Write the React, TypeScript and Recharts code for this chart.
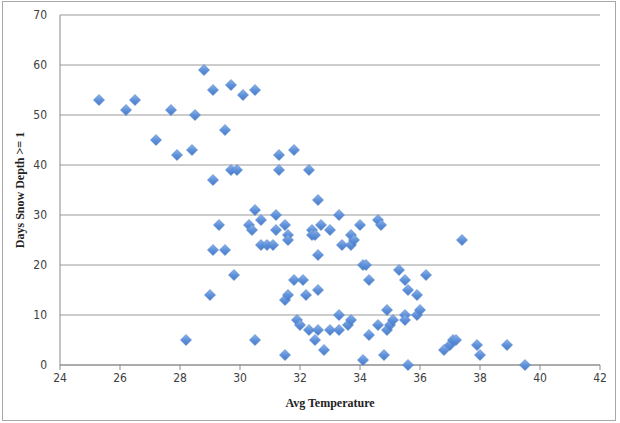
import { ScatterChart, Scatter, XAxis, YAxis, CartesianGrid } from "recharts";

const temps = [
  25.3, 26.2, 26.5, 27.2, 27.7, 27.9, 28.4, 28.5, 28.8, 29.1, 29.7, 29.5, 30.1, 30.5,
  29.7, 29.9, 29.1, 29.3, 29.1, 29.5, 29.8, 29.0, 28.2, 30.5, 30.3, 30.4, 30.7, 30.7,
  30.9, 31.1, 31.2, 31.2, 31.3, 31.3, 31.8, 31.5, 31.6, 31.6, 30.5, 31.5, 31.5, 31.6,
  31.8, 32.1, 31.9, 32.0, 32.2, 32.3, 32.3, 32.5, 32.6, 32.8, 32.6, 32.6, 32.6, 32.4,
  32.4, 32.5, 32.7, 33.0, 33.3, 33.4, 33.0, 33.3, 33.3, 33.6, 33.7, 33.7, 33.7, 33.8,
  34.0, 34.1, 34.2, 34.3, 34.1, 34.3, 34.6, 34.6, 34.7, 34.8, 34.9, 34.9, 35.0, 35.1,
  35.3, 35.5, 35.6, 35.5, 35.5, 35.6, 35.9, 35.9, 36.0, 36.2, 36.8, 37.0, 37.1, 37.2,
  37.4, 37.9, 38.0, 38.9, 39.5,
];

const snowDays = [
  53, 51, 53, 45, 51, 42, 43, 50, 59, 55, 56, 47, 54, 55,
  39, 39, 37, 28, 23, 23, 18, 14, 5, 31, 28, 27, 29, 24,
  24, 24, 30, 27, 42, 39, 43, 28, 26, 25, 5, 2, 13, 14,
  17, 17, 9, 8, 14, 39, 7, 5, 7, 3, 15, 22, 33, 27,
  26, 26, 28, 27, 30, 24, 7, 10, 7, 8, 9, 24, 26, 25,
  28, 20, 20, 17, 1, 6, 8, 29, 28, 2, 11, 7, 8, 9,
  19, 17, 15, 10, 9, 0, 14, 10, 11, 18, 3, 4, 5, 5,
  25, 4, 2, 4, 0,
];

const xTicks = [24, 26, 28, 30, 32, 34, 36, 38, 40, 42];
const yTicks = [0, 10, 20, 30, 40, 50, 60, 70];

const points = temps.map((t, i) => ({ temp: t, days: snowDays[i] }));

const tickFont = { fontSize: 12, fill: "#404040", fontFamily: "Liberation Sans Narrow, DejaVu Sans Condensed, sans-serif" };
const titleFont = { fontSize: 12, fontWeight: "bold", fill: "#222", fontFamily: "Liberation Serif, serif" };

function Diamond(props: any) {
  const { cx, cy } = props;
  const r = 5.5;
  return (
    <path
      d={`M${cx},${cy - r}L${cx + r},${cy}L${cx},${cy + r}L${cx - r},${cy}Z`}
      fill="url(#diaFill)"
      stroke="#4f7fc6"
      strokeWidth={0.6}
    />
  );
}

export default function App() {
  return (
    <div style={{ position: "relative", width: 620, height: 423, background: "#fff" }}>
      <style>{"body{margin:0}"}</style>
      <div
        style={{
          position: "absolute",
          left: 2,
          top: 1,
          width: 612,
          height: 418,
          border: "1px solid #a8a8a8",
        }}
      />
      <div style={{ position: "absolute", left: 0, top: 0 }}>
        <ScatterChart width={620} height={423} margin={{ top: 15, right: 20, bottom: 0, left: 0 }}>
          <defs>
            <linearGradient id="diaFill" x1="0" y1="0" x2="0" y2="1">
              <stop offset="0%" stopColor="#8db4ec" />
              <stop offset="55%" stopColor="#5c8fd9" />
              <stop offset="100%" stopColor="#4a7cc7" />
            </linearGradient>
          </defs>
          <CartesianGrid stroke="#9a9a9a" vertical={false} />
          <XAxis
            type="number"
            dataKey="temp"
            domain={[24, 42]}
            ticks={xTicks}
            interval={0}
            height={58}
            stroke="#8a8a8a"
            tickSize={5}
            tickMargin={3}
            tick={tickFont}
            label={{ value: "Avg Temperature", position: "insideBottom", offset: 16, style: titleFont }}
          />
          <YAxis
            type="number"
            dataKey="days"
            domain={[0, 70]}
            ticks={yTicks}
            interval={0}
            width={60}
            stroke="#8a8a8a"
            tickLine={false}
            tickSize={0}
            tickMargin={13}
            tick={tickFont}
            label={{ value: "Days Snow Depth >= 1", angle: -90, position: "insideLeft", offset: 20, style: { ...titleFont, textAnchor: "middle" } }}
          />
          <Scatter data={points} shape={Diamond} isAnimationActive={false} />
        </ScatterChart>
      </div>
    </div>
  );
}
